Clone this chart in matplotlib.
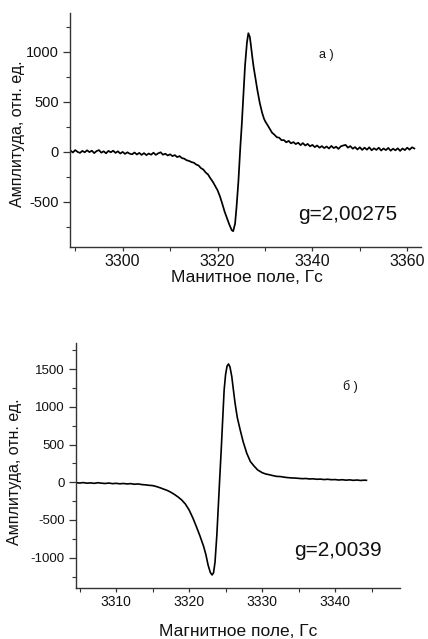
import matplotlib
matplotlib.use("Agg")
import matplotlib.pyplot as plt
from matplotlib.ticker import MultipleLocator

plt.rcParams['font.family'] = ['Liberation Sans', 'DejaVu Sans']
plt.rcParams['axes.unicode_minus'] = False

# ---- panel a) data ----
field_a = [3289.0, 3289.5, 3290.0, 3290.5, 3291.0, 3291.5, 3292.0, 3292.5, 3293.0, 3293.5,
           3294.0, 3294.5, 3295.0, 3295.5, 3296.0, 3296.5, 3297.0, 3297.5, 3298.0, 3298.5,
           3299.0, 3299.5, 3300.0, 3300.5, 3301.0, 3301.5, 3302.0, 3302.5, 3303.0, 3303.5,
           3304.0, 3304.5, 3305.0, 3305.5, 3306.0, 3306.5, 3307.0, 3307.5, 3308.0, 3308.5,
           3309.0, 3309.5, 3310.0, 3310.5, 3311.0, 3311.5, 3312.0, 3312.5, 3313.0, 3313.5,
           3314.0, 3314.5, 3315.0, 3315.5, 3316.0, 3316.5, 3317.0, 3317.5, 3318.0, 3318.5,
           3319.0, 3319.5, 3320.0, 3320.5, 3321.0, 3321.5, 3322.0, 3322.5, 3323.0, 3323.3,
           3323.7, 3324.0, 3324.4, 3324.8, 3325.1, 3325.5, 3325.8, 3326.2, 3326.5, 3326.8,
           3327.0, 3327.3, 3327.6, 3328.0, 3328.4, 3328.9, 3329.4, 3329.8, 3330.1, 3330.5,
           3331.0, 3331.5, 3332.0, 3332.5, 3333.0, 3333.5, 3334.0, 3334.5, 3335.0, 3335.5,
           3336.0, 3336.5, 3337.0, 3337.5, 3338.0, 3338.5, 3339.0, 3339.5, 3340.0, 3340.5,
           3341.0, 3341.5, 3342.0, 3342.5, 3343.0, 3343.5, 3344.0, 3344.5, 3345.0, 3345.5,
           3346.0, 3346.5, 3347.0, 3347.5, 3348.0, 3348.5, 3349.0, 3349.5, 3350.0, 3350.5,
           3351.0, 3351.5, 3352.0, 3352.5, 3353.0, 3353.5, 3354.0, 3354.5, 3355.0, 3355.5,
           3356.0, 3356.5, 3357.0, 3357.5, 3358.0, 3358.5, 3359.0, 3359.5, 3360.0, 3360.5,
           3361.0, 3361.5]
amp_a = [12, -8, 16, -2, -12, 8, -6, 14, -4, 10,
         -14, 6, 16, -10, 4, -16, 8, -6, 10, -12,
         4, -18, -2, -22, -6, -20, -26, -8, -28, -12,
         -32, -14, -34, -18, -30, -10, -32, -16, -6, -30,
         -20, -38, -26, -44, -34, -54, -44, -64, -70, -86,
         -92, -104, -110, -128, -138, -164, -178, -208, -228, -266,
         -300, -342, -385, -445, -520, -600, -665, -730, -785, -795,
         -720, -560, -300, 40, 260, 600, 860, 1090, 1185, 1150,
         1080, 960, 850, 730, 617, 490, 390, 330, 300, 270,
         230, 190, 170, 145, 140, 115, 116, 94, 108, 84,
         96, 76, 90, 66, 86, 62, 78, 54, 68, 46,
         62, 40, 56, 36, 52, 32, 58, 36, 50, 28,
         54, 62, 68, 40, 56, 30, 46, 22, 44, 18,
         40, 20, 44, 14, 34, 18, 40, 12, 32, 16,
         38, 10, 30, 14, 34, 8, 32, 16, 40, 20,
         44, 32]

# ---- panel б) data ----
field_b = [3304.5, 3305.0, 3305.5, 3306.0, 3306.5, 3307.0, 3307.5, 3308.0, 3308.5, 3309.0,
           3309.5, 3310.0, 3310.5, 3311.0, 3311.5, 3312.0, 3312.5, 3313.0, 3313.5, 3314.0,
           3314.5, 3315.0, 3315.5, 3316.0, 3316.5, 3317.0, 3317.5, 3318.0, 3318.5, 3319.0,
           3319.5, 3320.0, 3320.5, 3321.0, 3321.5, 3322.0, 3322.3, 3322.6, 3322.9, 3323.15,
           3323.35, 3323.55, 3323.8, 3324.0, 3324.2, 3324.4, 3324.6, 3324.8, 3325.0, 3325.2,
           3325.4, 3325.6, 3325.85, 3326.05, 3326.3, 3326.6, 3327.0, 3327.4, 3327.9, 3328.4,
           3328.9, 3329.4, 3330.0, 3330.5, 3331.0, 3331.5, 3332.0, 3332.5, 3333.0, 3333.5,
           3334.0, 3334.5, 3335.0, 3335.5, 3336.0, 3336.5, 3337.0, 3337.5, 3338.0, 3338.5,
           3339.0, 3339.5, 3340.0, 3340.5, 3341.0, 3341.5, 3342.0, 3342.5, 3343.0, 3343.5,
           3344.0, 3344.3]
amp_b = [-5, -10, -4, -12, -8, -14, -6, -12, -16, -10,
         -18, -14, -20, -16, -22, -18, -26, -22, -30, -34,
         -40, -44, -56, -72, -90, -108, -132, -162, -196, -236,
         -290, -367, -470, -589, -715, -854, -960, -1097, -1195, -1229,
         -1200, -1060, -700, -323, 60, 428, 830, 1224, 1430, 1540,
         1569, 1530, 1401, 1240, 1048, 860, 694, 540, 385, 274,
         215, 163, 128, 110, 100, 88, 78, 76, 68, 62,
         58, 56, 52, 48, 50, 44, 46, 40, 42, 36,
         40, 34, 36, 30, 34, 28, 32, 26, 30, 24,
         28, 26]

# ---- text ----
ylabel_text = "Амплитуда, отн. ед."
xlabel_a = "Манитное поле, Гс"
xlabel_b = "Магнитное поле, Гс"
label_a = "а )"
label_b = "б )"
g_a = "g=2,00275"
g_b = "g=2,0039"

W, H = 428, 639
fig = plt.figure(figsize=(W / 100, H / 100), dpi=100)

def px_axes(left, top, right, bottom):
    return fig.add_axes([left / W, 1 - bottom / H, (right - left) / W, (bottom - top) / H])

def style(ax, xsize, ysize):
    for s in ('top', 'right'):
        ax.spines[s].set_visible(False)
    for s in ('left', 'bottom'):
        ax.spines[s].set_color('#333333')
        ax.spines[s].set_linewidth(1.0)
    ax.tick_params(which='major', direction='out', length=5, width=0.9, color='#333333',
                   labelcolor='#111111', pad=3)
    ax.tick_params(which='minor', direction='out', length=3, width=0.8, color='#333333')
    ax.tick_params(axis='x', which='major', length=3, pad=2, labelsize=xsize)
    ax.tick_params(axis='y', which='major', labelsize=ysize)
    ax.set_facecolor('white')

ax1 = px_axes(70, 13, 421, 247)
ax1.plot(field_a, amp_a, color='black', lw=1.25)
ax1.set_xlim(3288.9, 3362.9)
ax1.set_ylim(-953, 1387)
ax1.xaxis.set_major_locator(MultipleLocator(20))
ax1.xaxis.set_minor_locator(MultipleLocator(10))
ax1.yaxis.set_major_locator(MultipleLocator(500))
ax1.yaxis.set_minor_locator(MultipleLocator(250))
style(ax1, 11.5, 10.5)

ax2 = px_axes(76, 343, 400, 588)
ax2.plot(field_b, amp_b, color='black', lw=1.2)
ax2.set_xlim(3304.5, 3348.9)
ax2.set_ylim(-1402, 1847)
ax2.xaxis.set_major_locator(MultipleLocator(10))
ax2.xaxis.set_minor_locator(MultipleLocator(5))
ax2.yaxis.set_major_locator(MultipleLocator(500))
ax2.yaxis.set_minor_locator(MultipleLocator(250))
style(ax2, 10, 9.5)

def ftext(x, y, s, **kw):
    fig.text(x / W, 1 - y / H, s, **kw)

ftext(18, 134, ylabel_text, rotation=90, ha='center', va='center', fontsize=11.5, color='#111111')
ftext(15, 472, ylabel_text, rotation=90, ha='center', va='center', fontsize=11.5, color='#111111')
ftext(247, 277, xlabel_a, ha='center', va='center', fontsize=12.5, color='#111111')
ftext(238, 632, xlabel_b, ha='center', va='center', fontsize=12.5, color='#111111')
ftext(326, 55, label_a, ha='center', va='center', fontsize=9, color='#111111')
ftext(350, 387, label_b, ha='center', va='center', fontsize=9, color='#111111')
ftext(348, 215, g_a, ha='center', va='center', fontsize=15, color='#111111')
ftext(338, 551, g_b, ha='center', va='center', fontsize=15, color='#111111')

fig.savefig('out.png', dpi=100, facecolor='white')
